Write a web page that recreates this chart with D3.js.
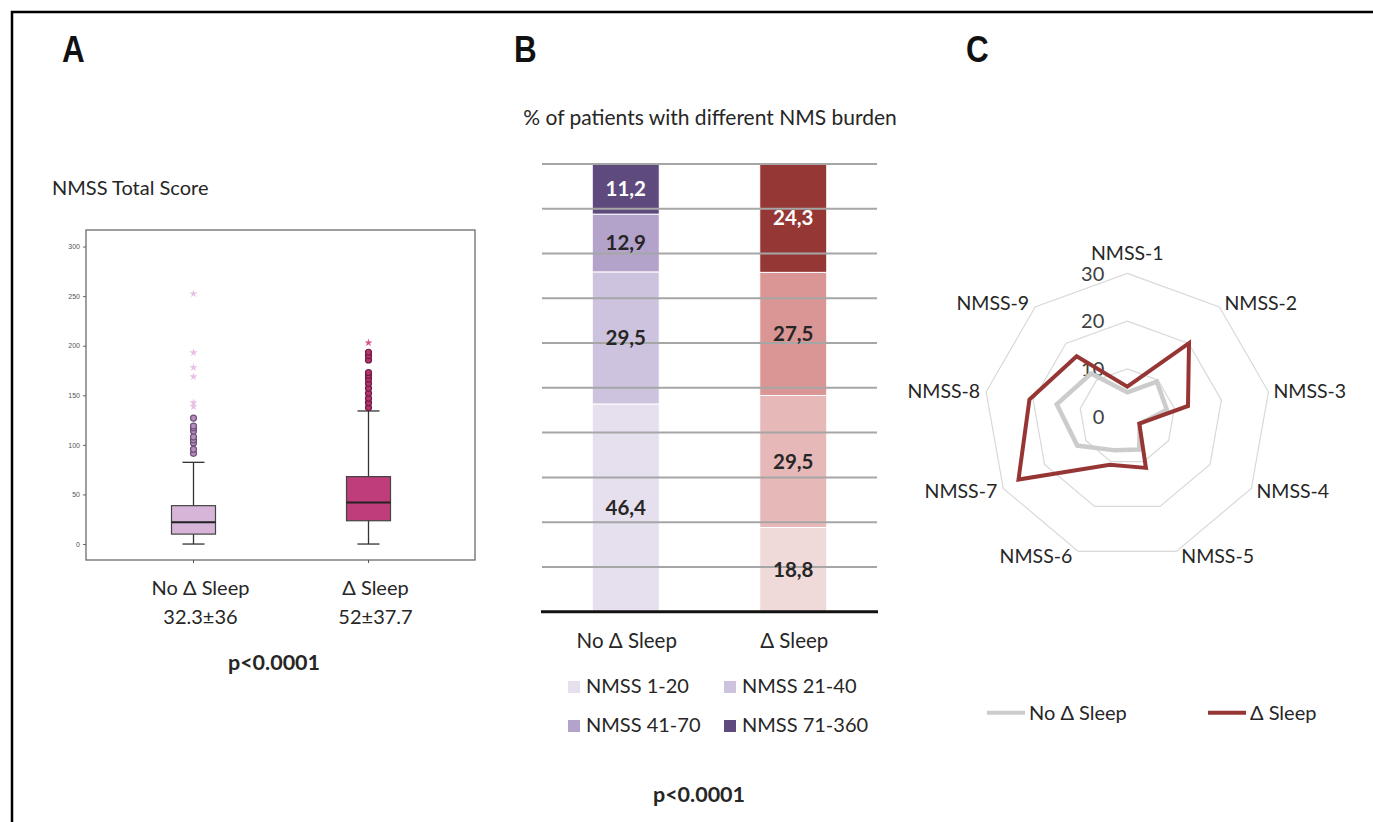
<!DOCTYPE html>
<html>
<head>
<meta charset="utf-8">
<script src="https://cdn.jsdelivr.net/npm/d3@7"></script>
<style>
  body { margin: 0; background: #fff; }
  svg { display: block; }
  text { fill: #262626; }
</style>
</head>
<body>
<svg id="fig" width="1373" height="822"></svg>
<script>
// ---- panel A: box plot data ----
const boxGroups = ["No Δ Sleep", "Δ Sleep"];
const boxStats = ["32.3±36", "52±37.7"];
const boxQ1 = [10, 23.5];
const boxMedian = [22, 42];
const boxQ3 = [38.7, 68];
const boxLow = [0, 0];
const boxHigh = [82.4, 134.2];
const boxOutliers = [
  [91.5, 95.5, 102, 105, 108, 114, 117, 119, 127],
  [137.6, 142.6, 147, 152, 157, 162, 166.5, 170, 173, 185.7, 190, 193.4]
];
const boxExtremes = [
  [252.4, 193, 178, 168.8, 142.6, 138.6],
  [203]
];
const boxTicks = [0, 50, 100, 150, 200, 250, 300];

// ---- panel B: stacked percentages ----
const burdenGroups = ["No Δ Sleep", "Δ Sleep"];
const burdenClasses = ["NMSS 1-20", "NMSS 21-40", "NMSS 41-70", "NMSS 71-360"];
const burdenNoSleep = [46.4, 29.5, 12.9, 11.2];
const burdenSleep = [18.8, 29.5, 27.5, 24.3];

// ---- panel C: radar ----
const radarAxes = ["NMSS-1", "NMSS-2", "NMSS-3", "NMSS-4", "NMSS-5", "NMSS-6", "NMSS-7", "NMSS-8", "NMSS-9"];
const radarNoSleep = [5.1, 9.6, 8.4, 3, 7.3, 7.5, 12.1, 15, 11.8];
const radarSleep = [6.3, 20.1, 12.9, 2.9, 11.4, 10.7, 26.3, 20.8, 16.5];
const radarTicks = [0, 10, 20, 30];
const radarSeries = ["No Δ Sleep", "Δ Sleep"];

const svg = d3.select("#fig");
const font = "Lato, 'Open Sans', sans-serif";

// outer frame
svg.append("path")
  .attr("d", "M12,830 V12 H1380")
  .attr("fill", "none").attr("stroke", "#000").attr("stroke-width", 2.5);

// panel letters
svg.selectAll("text.letter")
  .data([["A", 62], ["B", 514], ["C", 966]])
  .join("text")
  .attr("class", "letter")
  .attr("transform", d => `translate(${d[1]},62) scale(0.85,1)`)
  .attr("font-family", "'Liberation Sans', Arial, sans-serif")
  .attr("font-weight", "bold").attr("font-size", 37)
  .style("fill", "#111")
  .text(d => d[0]);

// ================= A =================
{
  const g = svg.append("g");
  const left = 86, right = 475, top = 230, bottom = 560;
  const y = d3.scaleLinear().domain([-16.1, 316.7]).range([bottom, top]);
  const x = d3.scalePoint().domain(boxGroups).range([193.5, 368.5]);
  const fills = ["#d7b5d9", "#be3d7a"];
  const dotFill = ["#b78dc1", "#b8336f"];
  const dotStroke = ["#6e5378", "#6e1d43"];
  const starFill = ["#e9c0e4", "#d9538e"];
  const halfW = 22, cap = 11;

  g.append("text").attr("x", 52).attr("y", 195)
    .attr("font-family", font).attr("font-size", 20).text("NMSS Total Score");

  g.append("rect").attr("x", left).attr("y", top)
    .attr("width", right - left).attr("height", bottom - top)
    .attr("fill", "none").attr("stroke", "#6b6b6b").attr("stroke-width", 1.3);

  const ax = g.append("g").attr("transform", `translate(${left},0)`)
    .call(d3.axisLeft(y).tickValues(boxTicks).tickSize(3).tickSizeOuter(0));
  ax.select(".domain").remove();
  ax.selectAll("line").attr("stroke", "#666");
  ax.selectAll("text").attr("font-family", "'Liberation Sans', Arial, sans-serif")
    .attr("font-size", 7).style("fill", "#555");

  // category ticks below frame
  g.selectAll("line.ctick").data(boxGroups).join("line")
    .attr("x1", d => x(d)).attr("x2", d => x(d))
    .attr("y1", bottom).attr("y2", bottom + 3)
    .attr("stroke", "#555");

  boxGroups.forEach((name, i) => {
    const cx = x(name);
    const bg = g.append("g");
    bg.append("line").attr("x1", cx).attr("x2", cx)
      .attr("y1", y(boxLow[i])).attr("y2", y(boxHigh[i]))
      .attr("stroke", "#333").attr("stroke-width", 1.3);
    [boxLow[i], boxHigh[i]].forEach(v => {
      bg.append("line").attr("x1", cx - cap).attr("x2", cx + cap)
        .attr("y1", y(v)).attr("y2", y(v))
        .attr("stroke", "#333").attr("stroke-width", 1.3);
    });
    bg.append("rect").attr("x", cx - halfW).attr("width", 2 * halfW)
      .attr("y", y(boxQ3[i])).attr("height", y(boxQ1[i]) - y(boxQ3[i]))
      .attr("fill", fills[i]).attr("stroke", "#444").attr("stroke-width", 1.2);
    bg.append("line").attr("x1", cx - halfW).attr("x2", cx + halfW)
      .attr("y1", y(boxMedian[i])).attr("y2", y(boxMedian[i]))
      .attr("stroke", "#222").attr("stroke-width", 2);
    bg.selectAll("circle").data(boxOutliers[i]).join("circle")
      .attr("cx", cx).attr("cy", d => y(d)).attr("r", 3)
      .attr("fill", dotFill[i]).attr("stroke", dotStroke[i]).attr("stroke-width", 1.2);
    bg.selectAll("path.star").data(boxExtremes[i]).join("path")
      .attr("class", "star")
      .attr("transform", d => `translate(${cx},${y(d)})`)
      .attr("d", d3.symbol(d3.symbolStar, 20))
      .attr("fill", starFill[i]);

    g.append("text").attr("x", cx + 7).attr("y", 595)
      .attr("text-anchor", "middle").attr("font-family", font).attr("font-size", 20)
      .text(name);
    g.append("text").attr("x", cx + 7).attr("y", 624)
      .attr("text-anchor", "middle").attr("font-family", font).attr("font-size", 20)
      .text(boxStats[i]);
  });

  g.append("text").attr("x", 274).attr("y", 670)
    .attr("text-anchor", "middle").attr("font-family", font)
    .attr("font-weight", "bold").attr("font-size", 21.5).text("p<0.0001");
}

// ================= B =================
{
  const g = svg.append("g");
  const x = d3.scalePoint().domain(burdenGroups).range([542, 877]).padding(0.5);
  const y = d3.scaleLinear().domain([0, 100]).range([611.7, 164]);
  const barW = 67;
  const colors = [
    ["#e6dfed", "#cec3de", "#b3a3cb", "#5f4a7e"],
    ["#f0d9d9", "#e6b8b7", "#da9694", "#953735"]
  ];

  g.append("text").attr("x", 710).attr("y", 125)
    .attr("text-anchor", "middle").attr("font-family", font).attr("font-size", 21)
    .text("% of patients with different NMS burden");

  // one row per group, one key per burden class
  const table = burdenGroups.map((grp, gi) => {
    const o = { group: grp, gi };
    burdenClasses.forEach((c, k) => o[c] = gi === 0 ? burdenNoSleep[k] : burdenSleep[k]);
    return o;
  });
  const stacked = d3.stack().keys(burdenClasses)(table);

  stacked.forEach((layer, k) => {
    layer.forEach(seg => {
      const gi = seg.data.gi;
      const cx = x(seg.data.group);
      g.append("rect")
        .attr("x", cx - barW / 2).attr("width", barW)
        .attr("y", y(seg[1])).attr("height", y(seg[0]) - y(seg[1]))
        .attr("fill", colors[gi][k]).attr("stroke", "#fff").attr("stroke-width", 1);
    });
  });

  // gridlines on top of bars
  g.selectAll("line.grid").data(d3.range(10, 101, 10)).join("line")
    .attr("x1", 542).attr("x2", 877)
    .attr("y1", d => y(d)).attr("y2", d => y(d))
    .attr("stroke", "#a6a6a6").attr("stroke-width", 2);
  g.append("line").attr("x1", 541).attr("x2", 878)
    .attr("y1", y(0)).attr("y2", y(0))
    .attr("stroke", "#111").attr("stroke-width", 3);

  stacked.forEach((layer, k) => {
    layer.forEach(seg => {
      const cx = x(seg.data.group);
      g.append("text")
        .attr("x", cx).attr("y", y((seg[0] + seg[1]) / 2))
        .attr("dy", "0.36em")
        .attr("text-anchor", "middle").attr("font-family", font)
        .attr("font-weight", "bold").attr("font-size", 20.5)
        .style("fill", k === 3 ? "#fff" : "#262626")
        .text(d3.format(".1f")(seg[1] - seg[0]).replace(".", ","));
    });
  });

  g.selectAll("text.cat").data(burdenGroups).join("text")
    .attr("class", "cat")
    .attr("x", d => x(d) + 1).attr("y", 648)
    .attr("text-anchor", "middle").attr("font-family", font).attr("font-size", 20.5)
    .text(d => d);

  const lg = g.selectAll("g.leg").data(burdenClasses).join("g")
    .attr("class", "leg")
    .attr("transform", (d, i) => `translate(${i % 2 ? 724 : 568},${i < 2 ? 681 : 720})`);
  lg.append("rect").attr("width", 12).attr("height", 12)
    .attr("fill", (d, i) => colors[0][i]);
  lg.append("text").attr("x", 18).attr("y", 12)
    .attr("font-family", font).attr("font-size", 20).text(d => d);

  g.append("text").attr("x", 699).attr("y", 802)
    .attr("text-anchor", "middle").attr("font-family", font)
    .attr("font-weight", "bold").attr("font-size", 21.5).text("p<0.0001");
}

// ================= C =================
{
  const g = svg.append("g").attr("transform", "translate(1127.3,416.7)");
  const r = d3.scaleLinear().domain([0, 30]).range([0, 143.3]);
  const n = radarAxes.length;
  const ang = i => (i * 2 * Math.PI) / n;
  const pt = (i, v) => [Math.sin(ang(i)) * r(v), -Math.cos(ang(i)) * r(v)];
  const radial = d3.lineRadial().angle((d, i) => ang(i)).radius(d => r(d)).curve(d3.curveLinearClosed);

  radarTicks.filter(t => t > 0).forEach(t => {
    g.append("path").attr("d", radial(radarAxes.map(() => t)))
      .attr("fill", "none").attr("stroke", "#d9d9d9").attr("stroke-width", 1.2);
  });

  g.selectAll("text.tick").data(radarTicks).join("text")
    .attr("class", "tick")
    .attr("x", -23).attr("y", d => -r(d)).attr("dy", "0.36em")
    .attr("text-anchor", "end").attr("font-family", font).attr("font-size", 20)
    .style("fill", "#404040")
    .text(d => d);

  const seriesData = [radarNoSleep, radarSleep];
  const seriesColor = ["#cccccc", "#963634"];
  seriesData.forEach((vals, s) => {
    g.append("path").attr("d", radial(vals))
      .attr("fill", "none").attr("stroke", seriesColor[s])
      .attr("stroke-width", s === 0 ? 4.5 : 4).attr("stroke-linejoin", "miter");
  });

  radarAxes.forEach((name, i) => {
    const [px, py] = pt(i, 30);
    const sx = Math.sin(ang(i)), cy = Math.cos(ang(i));
    let anchor = "middle", tx = px, ty = py;
    if (i === 0) { ty = py - 20; }
    else { anchor = sx > 0 ? "start" : "end"; tx = px + (sx > 0 ? 5 : -6); ty = py - cy * 5; }
    g.append("text").attr("x", tx).attr("y", ty).attr("dy", "0.36em")
      .attr("text-anchor", anchor).attr("font-family", font).attr("font-size", 19.5)
      .text(name);
  });

  const leg = svg.selectAll("g.rleg").data(radarSeries).join("g")
    .attr("class", "rleg")
    .attr("transform", (d, i) => `translate(${i ? 1208 : 987},712.7)`);
  leg.append("line").attr("x1", 0).attr("x2", 38)
    .attr("stroke", (d, i) => seriesColor[i]).attr("stroke-width", 4);
  leg.append("text").attr("x", 42).attr("dy", "0.36em")
    .attr("font-family", font).attr("font-size", 20).text(d => d);
}
</script>
</body>
</html>
